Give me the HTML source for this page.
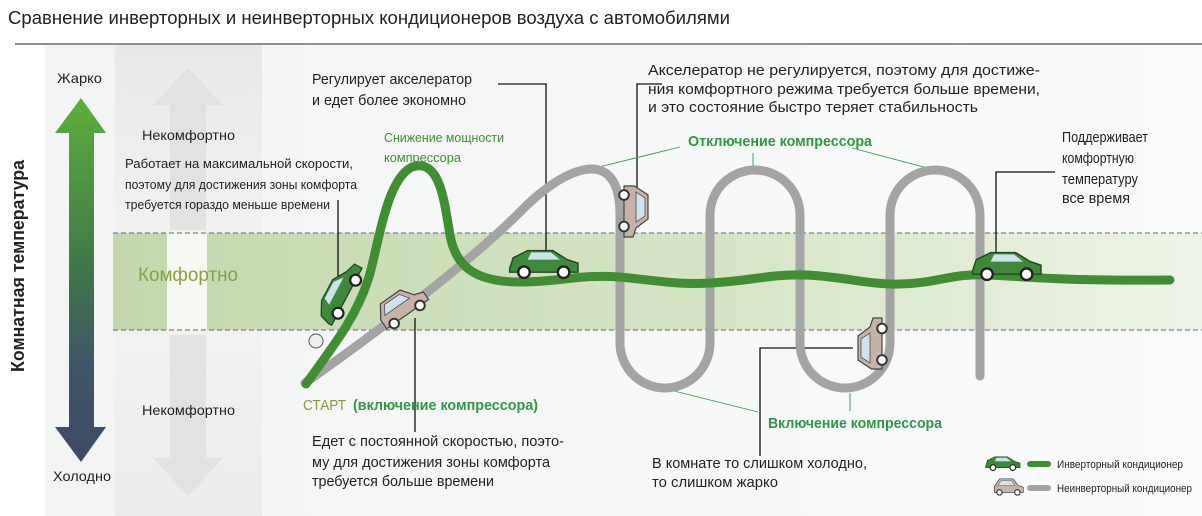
<!DOCTYPE html>
<html><head><meta charset="utf-8"><style>
html,body{margin:0;padding:0;background:#fff;width:1202px;height:516px;overflow:hidden}
svg text{font-family:"Liberation Sans",sans-serif}
</style></head><body>
<svg width="1202" height="516" viewBox="0 0 1202 516" xmlns="http://www.w3.org/2000/svg">
<defs>
<linearGradient id="bg" x1="0" x2="1" y1="0" y2="0"><stop offset="0" stop-color="#f3f4f4"/><stop offset="1" stop-color="#fafbfb"/></linearGradient>
<linearGradient id="band" x1="0" x2="1" y1="0" y2="0"><stop offset="0" stop-color="#c3d8ad"/><stop offset="0.6" stop-color="#d8e6c8"/><stop offset="1" stop-color="#eef4e8"/></linearGradient>
<linearGradient id="arr" x1="0" x2="0" y1="0" y2="1"><stop offset="0" stop-color="#5cb03a"/><stop offset="0.45" stop-color="#3f7a48"/><stop offset="0.75" stop-color="#3e5468"/><stop offset="1" stop-color="#3e4a68"/></linearGradient>
<linearGradient id="col" x1="0" x2="0" y1="0" y2="1"><stop offset="0" stop-color="#e8e8e6"/><stop offset="0.5" stop-color="#f4f4f2"/><stop offset="1" stop-color="#ebebea"/></linearGradient>
<g id="gcar"><path d="M-18,2 L-16,-4 L-8,-8 L6,-8 L14,-3 L20,-1 L20,4 L-18,4Z" fill="#3f8a3a" stroke="#1e4a1e" stroke-width="0.8"/><path d="M-6,-7 L5,-7 L10,-3 L-8,-3Z" fill="#cde3ea"/><circle cx="-10" cy="4" r="3.2" fill="#fff" stroke="#222" stroke-width="1.3"/><circle cx="12" cy="4" r="3.2" fill="#fff" stroke="#222" stroke-width="1.3"/></g>
<g id="ccar"><path d="M-16,4 L-16,-3 L-10,-12 L6,-12 L12,-4 L18,-2 L18,4Z" fill="#c7b2a8" stroke="#444" stroke-width="0.8"/><path d="M-8,-10 L4,-10 L8,-4 L-12,-4Z" fill="#cfe2ee" stroke="#444" stroke-width="0.5"/><circle cx="-10" cy="4" r="3.2" fill="#fff" stroke="#333" stroke-width="1.3"/><circle cx="11" cy="4" r="3.2" fill="#fff" stroke="#333" stroke-width="1.3"/></g>
</defs>
<rect x="0" y="0" width="1202" height="516" fill="#fff"/>
<rect x="45" y="45" width="1157" height="471" fill="url(#bg)"/>
<rect x="115" y="45" width="147" height="471" fill="url(#col)"/>
<text x="8" y="24" font-size="18" textLength="722" lengthAdjust="spacingAndGlyphs" fill="#222">Сравнение инверторных и неинверторных кондиционеров воздуха с автомобилями</text>
<line x1="15" y1="44" x2="1202" y2="44" stroke="#222" stroke-width="1"/>
<path d="M188,68 L223,105 L206,105 L206,230 L170,230 L170,105 L153,105Z" fill="#e2e2e0"/>
<path d="M188,496 L223,458 L206,458 L206,335 L170,335 L170,458 L153,458Z" fill="#e2e2e0"/>
<rect x="113" y="233" width="1089" height="97" fill="url(#band)"/>
<rect x="167" y="233" width="40" height="97" fill="#f6f8f2"/>
<line x1="113" y1="233" x2="1202" y2="233" stroke="#666" stroke-dasharray="5,3" stroke-width="1"/>
<line x1="113" y1="330" x2="1202" y2="330" stroke="#666" stroke-dasharray="5,3" stroke-width="1"/>
<path d="M81,98 L106,133 L94,133 L94,427 L106,427 L81,462 L55,427 L69,427 L69,133 L55,133Z" fill="url(#arr)"/>
<text x="57" y="83" font-size="14" textLength="45" lengthAdjust="spacingAndGlyphs" fill="#222">Жарко</text>
<text x="53" y="481" font-size="14" textLength="58" lengthAdjust="spacingAndGlyphs" fill="#222">Холодно</text>
<text transform="translate(24,372) rotate(-90)" font-size="18" font-weight="bold" textLength="212" lengthAdjust="spacingAndGlyphs" fill="#222">Комнатная температура</text>
<text x="142" y="140" font-size="14" textLength="93" lengthAdjust="spacingAndGlyphs" fill="#222">Некомфортно</text>
<text x="142" y="415" font-size="14" textLength="93" lengthAdjust="spacingAndGlyphs" fill="#222">Некомфортно</text>
<text x="138" y="281" font-size="19" textLength="100" lengthAdjust="spacingAndGlyphs" fill="#8aa040">Комфортно</text>
<g font-size="13" fill="#222">
<text x="125" y="168" textLength="228" lengthAdjust="spacingAndGlyphs">Работает на максимальной скорости,</text>
<text x="125" y="189" textLength="232" lengthAdjust="spacingAndGlyphs">поэтому для достижения зоны комфорта</text>
<text x="125" y="209" textLength="205" lengthAdjust="spacingAndGlyphs">требуется гораздо меньше времени</text>
</g>
<g stroke="#111" stroke-width="1.3" fill="none">
<path d="M338,200 L338,285"/>
<path d="M498,84 L546,84 L546,258"/>
<path d="M415,318 L415,432"/>
<path d="M662,84 L637,84 L637,190"/>
<path d="M1055,172 L996,172 L996,262"/>
<path d="M853,348 L760,348 L760,456"/>
</g>
<g stroke="#2e9a45" stroke-width="0.9" fill="none">
<path d="M680,147 L595,168"/><path d="M753,153 L753,168"/><path d="M852,148 L935,170"/>
<path d="M670,390 L758,412"/><path d="M850,393 L850,411"/>
</g>
<path d="M305,383 C380,330 470,262 520,212 C560,170 620,140 620,215 L620,343 A45,45 0 0 0 710,343 L710,215 A45,45 0 0 1 800,215 L800,343 A45,45 0 0 0 890,343 L890,215 A45,45 0 0 1 980,215 L980,376" fill="none" stroke="#a4a4a4" stroke-width="9" stroke-linecap="round"/>
<path d="M306,384 C330,350 355,320 368,280 C378,250 385,180 412,167 C440,158 444,200 450,235 C456,270 480,282 520,282 C560,282 580,274 620,277 C660,281 680,285 710,283 C750,281 770,274 805,275 C840,276 870,285 900,284 C940,283 950,273 990,275 C1030,277 1060,281 1170,280" fill="none" stroke="#3f8f32" stroke-width="9" stroke-linecap="round"/>
<use href="#gcar" transform="translate(542,265) scale(1.8)"/>
<use href="#gcar" transform="translate(1005,267) scale(1.8)"/>
<use href="#gcar" transform="translate(340,295) rotate(-62) scale(1.7)"/>
<circle cx="316" cy="341" r="7" fill="#eee" stroke="#555"/>
<use href="#ccar" transform="translate(403,310) rotate(-35) scale(1.5)"/>
<use href="#ccar" transform="translate(630,210) rotate(90) scale(1.5)"/>
<use href="#ccar" transform="translate(876,345) rotate(-90) scale(1.5)"/>
<g font-size="15" fill="#222">
<text x="312" y="84" textLength="160" lengthAdjust="spacingAndGlyphs">Регулирует акселератор</text>
<text x="312" y="105" textLength="154" lengthAdjust="spacingAndGlyphs">и едет более экономно</text>
<text x="648" y="75" textLength="392" lengthAdjust="spacingAndGlyphs">Акселератор не регулируется, поэтому для достиже-</text>
<text x="648" y="94" textLength="392" lengthAdjust="spacingAndGlyphs">ния комфортного режима требуется больше времени,</text>
<text x="648" y="112" textLength="330" lengthAdjust="spacingAndGlyphs">и это состояние быстро теряет стабильность</text>
<text x="1062" y="142" textLength="86" lengthAdjust="spacingAndGlyphs">Поддерживает</text>
<text x="1062" y="163" textLength="72" lengthAdjust="spacingAndGlyphs">комфортную</text>
<text x="1062" y="184" textLength="76" lengthAdjust="spacingAndGlyphs">температуру</text>
<text x="1062" y="203" textLength="68" lengthAdjust="spacingAndGlyphs">все время</text>
<text x="312" y="446" textLength="252" lengthAdjust="spacingAndGlyphs">Едет с постоянной скоростью, поэто-</text>
<text x="312" y="467" textLength="238" lengthAdjust="spacingAndGlyphs">му для достижения зоны комфорта</text>
<text x="312" y="486" textLength="182" lengthAdjust="spacingAndGlyphs">требуется больше времени</text>
<text x="652" y="468" textLength="215" lengthAdjust="spacingAndGlyphs">В комнате то слишком холодно,</text>
<text x="652" y="487" textLength="126" lengthAdjust="spacingAndGlyphs">то слишком жарко</text>
</g>
<text x="384" y="142" font-size="13" fill="#3f8f32" textLength="120" lengthAdjust="spacingAndGlyphs">Снижение мощности</text>
<text x="384" y="162" font-size="13" fill="#3f8f32" textLength="77" lengthAdjust="spacingAndGlyphs">компрессора</text>
<text x="688" y="146" font-size="15" font-weight="bold" fill="#2e9a45" textLength="184" lengthAdjust="spacingAndGlyphs">Отключение компрессора</text>
<text x="768" y="428" font-size="15" font-weight="bold" fill="#2e9a45" textLength="174" lengthAdjust="spacingAndGlyphs">Включение компрессора</text>
<text x="303" y="410" font-size="15" fill="#8a9a40" textLength="43" lengthAdjust="spacingAndGlyphs">СТАРТ</text>
<text x="353" y="410" font-size="15" font-weight="bold" fill="#2e9a45" textLength="185" lengthAdjust="spacingAndGlyphs">(включение компрессора)</text>
<use href="#gcar" transform="translate(1002,464) scale(0.9)"/>
<rect x="1027" y="461" width="24" height="6" rx="3" fill="#3f8f32"/>
<text x="1057" y="468" font-size="11" fill="#222" textLength="126" lengthAdjust="spacingAndGlyphs">Инверторный кондиционер</text>
<use href="#ccar" transform="translate(1008,489) scale(0.85)"/>
<rect x="1027" y="485" width="24" height="6" rx="3" fill="#a4a4a4"/>
<text x="1057" y="492" font-size="11" fill="#222" textLength="135" lengthAdjust="spacingAndGlyphs">Неинверторный кондиционер</text>
</svg>
</body></html>
